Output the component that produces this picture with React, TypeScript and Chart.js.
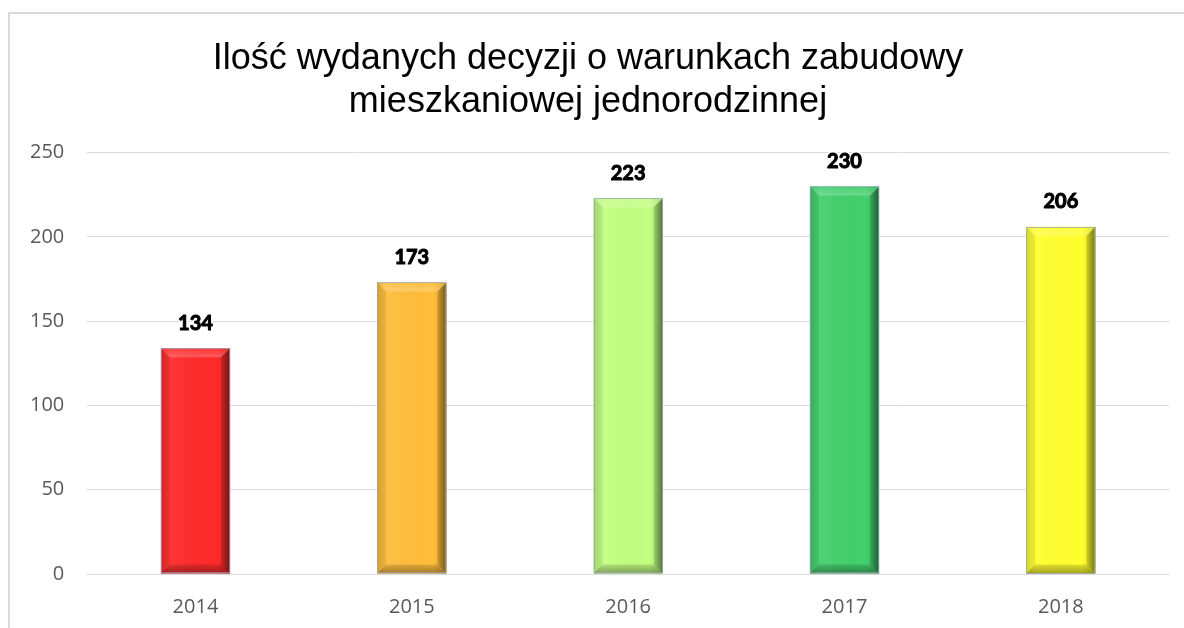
import React, { useEffect, useRef } from "react";
import { Chart, registerables } from "chart.js";

Chart.register(...registerables);

const titleLines = ["Ilość wydanych decyzji o warunkach zabudowy", "mieszkaniowej jednorodzinnej"];
const years = ["2014", "2015", "2016", "2017", "2018"];
const decisions = [134, 173, 223, 230, 206];
const barColors = ["#ff2a2a", "#ffbe3a", "#c2ff80", "#42d06c", "#ffff2e"];
const yTicks = [0, 50, 100, 150, 200, 250];

const framePlugin = {
  id: "frame",
  beforeDraw(chart: any) {
    const ctx = chart.ctx;
    ctx.save();
    ctx.fillStyle = "#ffffff";
    ctx.fillRect(0, 0, chart.width, chart.height);
    ctx.strokeStyle = "#d9d9d9";
    ctx.lineWidth = 2;
    ctx.beginPath();
    ctx.moveTo(9, chart.height);
    ctx.lineTo(9, 13);
    ctx.lineTo(chart.width, 13);
    ctx.stroke();
    ctx.restore();
  },
};

const bevelPlugin = {
  id: "bevel",
  afterDatasetsDraw(chart: any) {
    const ctx = chart.ctx;
    const meta = chart.getDatasetMeta(0);
    meta.data.forEach((bar: any, i: number) => {
      const { x, y, base, width } = bar.getProps(["x", "y", "base", "width"], true);
      const l = x - width / 2;
      const r = x + width / 2;
      const t = y;
      const b = base;
      const bv = 9;
      ctx.save();
      const g = ctx.createLinearGradient(l, 0, r, 0);
      g.addColorStop(0, "rgba(0,0,0,0.10)");
      g.addColorStop(0.15, "rgba(255,255,255,0.06)");
      g.addColorStop(0.8, "rgba(0,0,0,0)");
      g.addColorStop(1, "rgba(0,0,0,0.15)");
      ctx.fillStyle = g;
      ctx.fillRect(l, t, width, b - t);
      // top bevel
      const tg = ctx.createLinearGradient(0, t, 0, t + bv);
      tg.addColorStop(0, "rgba(255,255,255,0.05)");
      tg.addColorStop(1, "rgba(255,255,255,0.22)");
      ctx.fillStyle = tg;
      ctx.beginPath();
      ctx.moveTo(l, t);
      ctx.lineTo(r, t);
      ctx.lineTo(r - bv, t + bv);
      ctx.lineTo(l + bv, t + bv);
      ctx.closePath();
      ctx.fill();
      // left bevel
      ctx.fillStyle = "rgba(0,0,0,0.07)";
      ctx.beginPath();
      ctx.moveTo(l, t);
      ctx.lineTo(l + bv, t + bv);
      ctx.lineTo(l + bv, b - bv);
      ctx.lineTo(l, b);
      ctx.closePath();
      ctx.fill();
      // right bevel
      const rg = ctx.createLinearGradient(r - bv, 0, r, 0);
      rg.addColorStop(0, "rgba(0,0,0,0.15)");
      rg.addColorStop(1, "rgba(0,0,0,0.45)");
      ctx.fillStyle = rg;
      ctx.beginPath();
      ctx.moveTo(r, t);
      ctx.lineTo(r, b);
      ctx.lineTo(r - bv, b - bv);
      ctx.lineTo(r - bv, t + bv);
      ctx.closePath();
      ctx.fill();
      // bottom bevel
      const bg = ctx.createLinearGradient(0, b - bv, 0, b);
      bg.addColorStop(0, "rgba(0,0,0,0.12)");
      bg.addColorStop(1, "rgba(0,0,0,0.35)");
      ctx.fillStyle = bg;
      ctx.beginPath();
      ctx.moveTo(l, b);
      ctx.lineTo(r, b);
      ctx.lineTo(r - bv, b - bv);
      ctx.lineTo(l + bv, b - bv);
      ctx.closePath();
      ctx.fill();
      ctx.strokeStyle = "rgba(150,160,190,0.7)";
      ctx.lineWidth = 1;
      ctx.strokeRect(Math.round(l) + 0.5, Math.round(t) + 0.5, Math.round(width) - 1, Math.round(b - t) - 1);
      ctx.restore();
      // data label
      ctx.save();
      ctx.font = "bold 20px Lato";
      ctx.textAlign = "center";
      ctx.textBaseline = "middle";
      const txt = String(decisions[i]);
      ctx.lineJoin = "round";
      ctx.strokeStyle = "rgba(255,255,255,0.9)";
      ctx.lineWidth = 4;
      ctx.strokeText(txt, x, t - 25);
      ctx.strokeStyle = "#000000";
      ctx.lineWidth = 1;
      ctx.strokeText(txt, x, t - 25);
      ctx.fillStyle = "#000000";
      ctx.fillText(txt, x, t - 25);
      ctx.restore();
    });
  },
};

export default function App() {
  const ref = useRef<HTMLCanvasElement | null>(null);
  useEffect(() => {
    if (!ref.current) return;
    const chart = new Chart(ref.current, {
      type: "bar",
      data: {
        labels: years,
        datasets: [
          {
            data: decisions,
            backgroundColor: barColors,
            borderWidth: 0,
            barPercentage: 0.32,
            categoryPercentage: 1,
          },
        ],
      },
      options: {
        animation: false,
        responsive: false,
        layout: { padding: { top: 24, left: 7, right: 15, bottom: -4 } },
        plugins: {
          legend: { display: false },
          tooltip: { enabled: false },
          title: {
            display: true,
            text: titleLines,
            color: "#000000",
            font: { family: "Liberation Sans, Arial", size: 36, weight: "normal", lineHeight: 1.19 },
            padding: { top: 14, bottom: 29 },
          },
        },
        scales: {
          x: {
            grid: { display: false },
            border: { display: false },
            ticks: { color: "#595959", font: { family: "Open Sans", size: 20 }, padding: 13 },
          },
          y: {
            min: 0,
            max: 250,
            afterBuildTicks: (axis: any) => {
              axis.ticks = yTicks.map((v) => ({ value: v }));
            },
            grid: { color: "#d9d9d9", lineWidth: 1, drawTicks: false },
            border: { display: false },
            ticks: { color: "#595959", font: { family: "Open Sans", size: 20 }, padding: 23 },
          },
        },
      },
      plugins: [framePlugin, bevelPlugin],
    });
    return () => chart.destroy();
  }, []);
  return (
    <div style={{ position: "fixed", left: 0, top: 0, width: 1184, height: 628, background: "#fff" }}>
      <canvas ref={ref} width={1184} height={628} style={{ display: "block" }} />
    </div>
  );
}
